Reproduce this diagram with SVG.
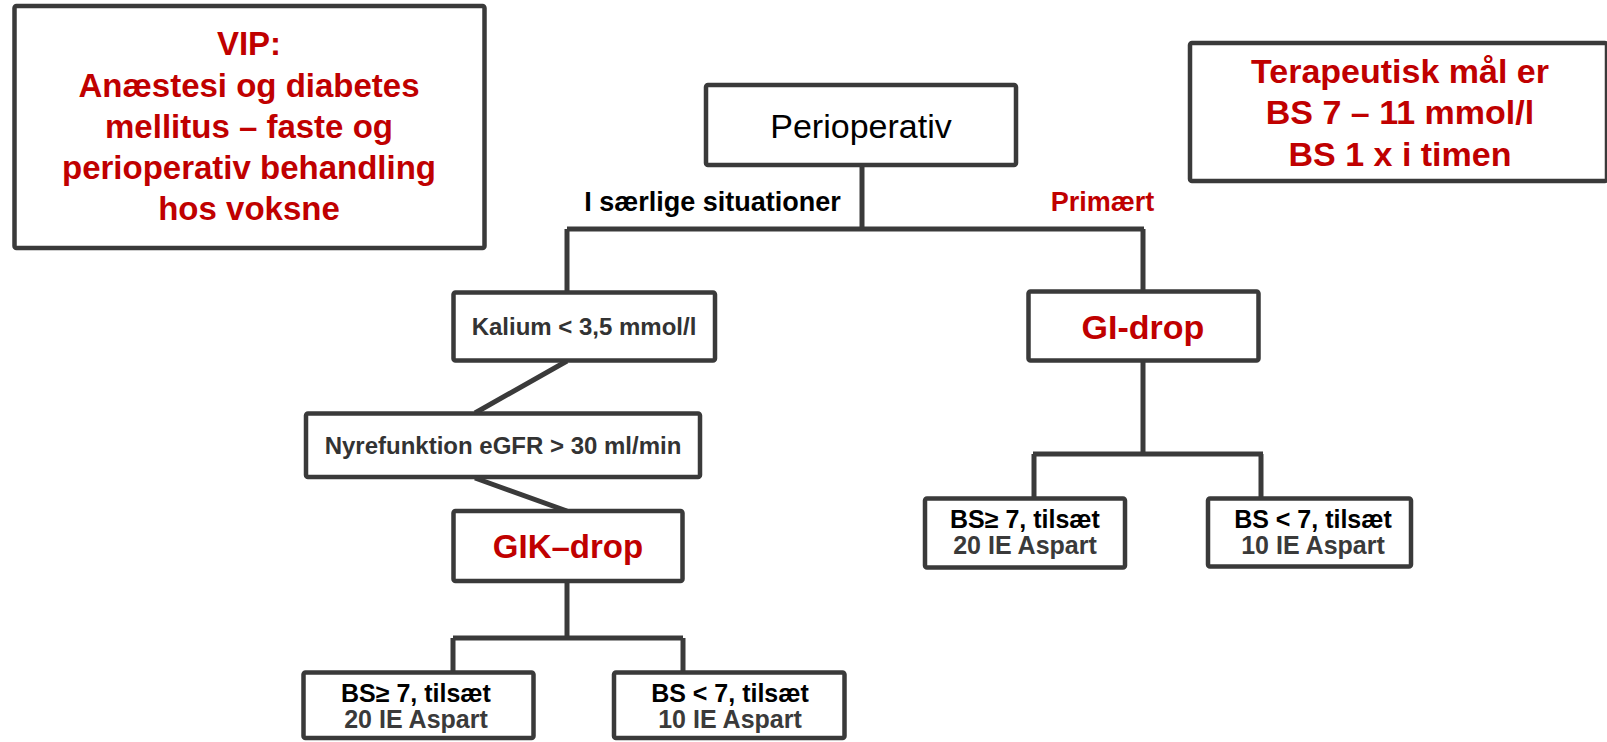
<svg xmlns="http://www.w3.org/2000/svg" width="1607" height="742" viewBox="0 0 1607 742">
<style>
.box{fill:#fff;stroke:#3a3a3a;stroke-width:4.5;stroke-linejoin:round}
.con{fill:none;stroke:#3a3a3a;stroke-width:5;stroke-linecap:butt;stroke-linejoin:miter}
text{font-family:"Liberation Sans",Arial,sans-serif;text-anchor:middle}
.red{fill:#c00000;font-weight:bold}
.big{font-size:33px}
.lbl{font-size:27px;font-weight:bold}
.mid{font-size:24px;font-weight:bold;fill:#333}
.bs1{font-size:25px;font-weight:bold;fill:#000}
.bs2{font-size:25px;font-weight:bold;fill:#3a3a3a}
</style>
<rect width="1607" height="742" fill="#fff"/>
<g id="connectors">
<path class="con" d="M862 165 V229 M567 229 H1144 M567 229 V292 M1143 229 V291"/>
<path class="con" d="M567 361 L475 413 M475 478 L567 511"/>
<path class="con" d="M567 581 V638 M453 638 H683 M453 638 V672 M683 638 V672"/>
<path class="con" d="M1143 361 V454 M1033 454 H1263 M1034 454 V498 M1261 454 V498"/>
</g>
<g id="vip">
<rect class="box" x="14.5" y="6" width="470" height="242" rx="2"/>
<text class="red big" x="249" y="55">VIP:</text>
<text class="red big" x="249" y="97">Anæstesi og diabetes</text>
<text class="red big" x="249" y="138">mellitus – faste og</text>
<text class="red big" x="249" y="179">perioperativ behandling</text>
<text class="red big" x="249" y="220">hos voksne</text>
</g>
<g id="maal">
<rect class="box" x="1190" y="43" width="417" height="138" rx="2"/>
<text class="red" style="font-size:34px" x="1400" y="83">Terapeutisk mål er</text>
<text class="red" style="font-size:34px" x="1400" y="124">BS 7 – 11 mmol/l</text>
<text class="red" style="font-size:34px" x="1400" y="166">BS 1 x i timen</text>
</g>
<g id="perioperativ">
<rect class="box" x="706" y="85" width="310" height="80" rx="2"/>
<text x="861" y="138" style="font-size:34px" fill="#000">Perioperativ</text>
</g>
<g id="labels">
<text class="lbl" x="712.5" y="211" fill="#000">I særlige situationer</text>
<text class="lbl" x="1102.5" y="211" fill="#c00000">Primært</text>
</g>
<g id="kalium">
<rect class="box" x="453.5" y="292.5" width="261.5" height="68" rx="2"/>
<text class="mid" x="584" y="335">Kalium &lt; 3,5 mmol/l</text>
</g>
<g id="nyre">
<rect class="box" x="306" y="413.5" width="394" height="63.5" rx="2"/>
<text class="mid" x="503" y="454">Nyrefunktion eGFR &gt; 30 ml/min</text>
</g>
<g id="gik">
<rect class="box" x="453.5" y="511" width="229" height="70" rx="2"/>
<text class="red big" x="568" y="558">GIK–drop</text>
</g>
<g id="gik-hoej">
<rect class="box" x="303.5" y="672.5" width="230" height="65.5" rx="2"/>
<text class="bs1" x="416" y="702">BS≥ 7, tilsæt</text>
<text class="bs2" x="416" y="728">20 IE Aspart</text>
</g>
<g id="gik-lav">
<rect class="box" x="614" y="672.5" width="230.5" height="65.5" rx="2"/>
<text class="bs1" x="730" y="702">BS &lt; 7, tilsæt</text>
<text class="bs2" x="730" y="728">10 IE Aspart</text>
</g>
<g id="gi">
<rect class="box" x="1028.5" y="291.5" width="230" height="69" rx="2"/>
<text class="red" style="font-size:34px" x="1143" y="339">GI-drop</text>
</g>
<g id="gi-hoej">
<rect class="box" x="925" y="498.5" width="200" height="69" rx="2"/>
<text class="bs1" x="1025" y="528">BS≥ 7, tilsæt</text>
<text class="bs2" x="1025" y="554">20 IE Aspart</text>
</g>
<g id="gi-lav">
<rect class="box" x="1208" y="498.5" width="203" height="68" rx="2"/>
<text class="bs1" x="1313" y="528">BS &lt; 7, tilsæt</text>
<text class="bs2" x="1313" y="554">10 IE Aspart</text>
</g>
</svg>
